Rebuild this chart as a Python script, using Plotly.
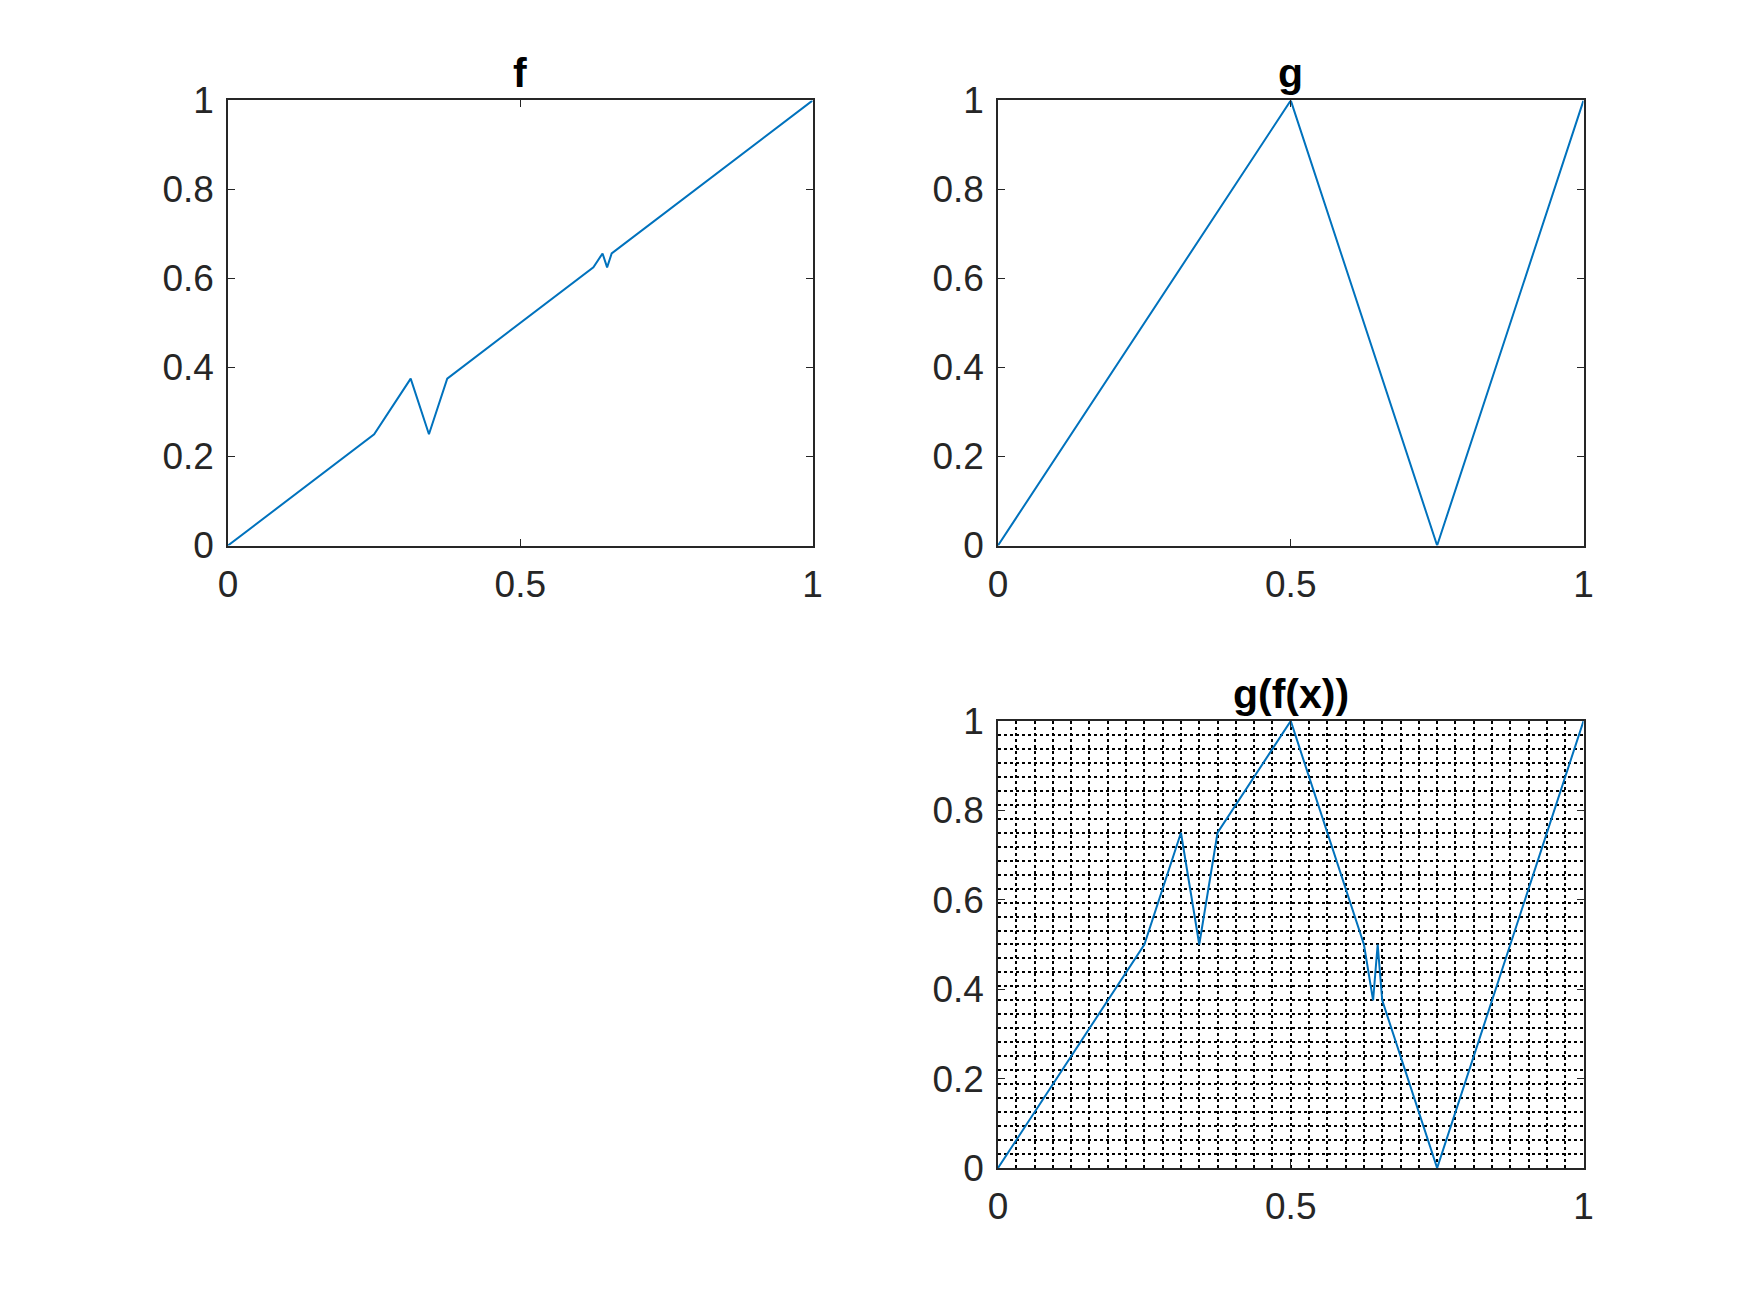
import plotly.graph_objects as go

# data
f_x = [0, 0.25, 0.3125, 0.34375, 0.375, 0.625, 0.640625, 0.6484375, 0.65625, 1]
f_y = [0, 0.25, 0.375, 0.25, 0.375, 0.625, 0.65625, 0.625, 0.65625, 1]

g_x = [0, 0.5, 0.75, 1]
g_y = [0, 1, 0, 1]

gf_x = [0, 0.25, 0.3125, 0.34375, 0.375, 0.5, 0.625, 0.640625, 0.6484375, 0.65625, 0.75, 1]
gf_y = [0, 0.5, 0.75, 0.5, 0.75, 1, 0.5, 0.375, 0.5, 0.375, 0, 1]

x_ticks = [0, 0.5, 1]
x_labels = ["0", "0.5", "1"]
y_ticks = [0, 0.2, 0.4, 0.6, 0.8, 1]
y_labels = ["0", "0.2", "0.4", "0.6", "0.8", "1"]
grid_step = 1 / 32

titles = ["f", "g", "g(f(x))"]

LINE = "#0072BD"
AX = "#262626"
FONT = "Liberation Sans, Arial, sans-serif"

# subplot positions (paper fractions, page margin compensated)
col_dom = [[0.1257, 0.4598], [0.5657, 0.9003]]
row_dom = [[0.5906, 0.9296], [0.1165, 0.4570]]

fig = go.Figure()
fig.add_trace(go.Scatter(x=f_x, y=f_y, mode="lines", line=dict(color=LINE, width=2),
                         xaxis="x", yaxis="y", showlegend=False))
fig.add_trace(go.Scatter(x=g_x, y=g_y, mode="lines", line=dict(color=LINE, width=2),
                         xaxis="x2", yaxis="y2", showlegend=False))
fig.add_trace(go.Scatter(x=gf_x, y=gf_y, mode="lines", line=dict(color=LINE, width=2),
                         xaxis="x3", yaxis="y3", showlegend=False))


def axis(dom, anchor, vals, labels, standoff, grid=False):
    d = dict(domain=dom, anchor=anchor, range=[0, 1], tickvals=vals, ticktext=labels,
             ticks="inside", ticklen=7, tickwidth=1.3, tickcolor=AX,
             showline=True, linecolor=AX, linewidth=1.5, mirror="ticks",
             zeroline=False, showgrid=False, automargin=False,
             tickfont=dict(family=FONT, size=37, color=AX), ticklabelstandoff=standoff)
    if grid:
        d["minor"] = dict(tickmode="linear", tick0=0, dtick=grid_step, showgrid=True,
                          gridcolor="black", gridwidth=2, griddash="dot", ticks="")
    return d


fig.update_layout(
    width=1750, height=1313,
    margin=dict(l=0, r=0, t=0, b=0, pad=0),
    paper_bgcolor="white", plot_bgcolor="white",
    xaxis=axis(col_dom[0], "y", x_ticks, x_labels, 5),
    yaxis=axis(row_dom[0], "x", y_ticks, y_labels, 5),
    xaxis2=axis(col_dom[1], "y2", x_ticks, x_labels, 5),
    yaxis2=axis(row_dom[0], "x2", y_ticks, y_labels, 5),
    xaxis3=axis(col_dom[1], "y3", x_ticks, x_labels, 5, grid=True),
    yaxis3=axis(row_dom[1], "x3", y_ticks, y_labels, 5, grid=True),
)

# subplot titles
title_pos = [(col_dom[0], row_dom[0]), (col_dom[1], row_dom[0]), (col_dom[1], row_dom[1])]
for t, (cd, rd) in zip(titles, title_pos):
    fig.add_annotation(text="<b>%s</b>" % t, x=(cd[0] + cd[1]) / 2, y=rd[1],
                       xref="paper", yref="paper", xanchor="center", yanchor="bottom",
                       yshift=2, showarrow=False,
                       font=dict(family=FONT, size=41, color="black"))

fig.write_html("out.html")
